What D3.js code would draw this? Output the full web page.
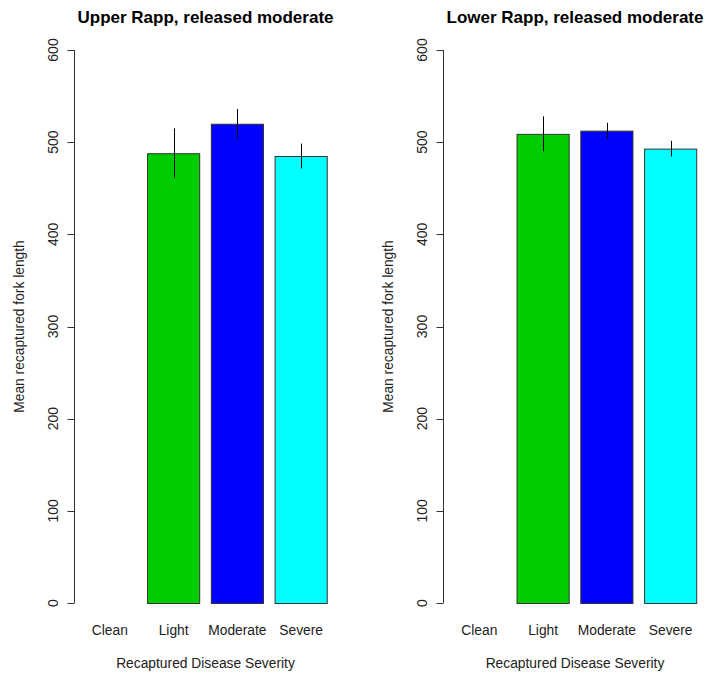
<!DOCTYPE html>
<html>
<head>
<meta charset="utf-8">
<script src="https://cdn.jsdelivr.net/npm/d3@7"></script>
<style>
  html, body { margin: 0; padding: 0; background: #fff; }
  svg text { font-family: "Liberation Sans", Arial, sans-serif; fill: #000; }
</style>
</head>
<body>
<svg id="chart" width="707" height="677"></svg>
<script>
const categories = ["Clean", "Light", "Moderate", "Severe"];
const colors = ["#ffffff", "#00CD00", "#0000FF", "#00FFFF"];
const yTicks = [0, 100, 200, 300, 400, 500, 600];

const upperTitle = "Upper Rapp, released moderate";
const upperMeans = [null, 488, 520, 485];
const upperErr = [null, 27, 16, 13.5];

const lowerTitle = "Lower Rapp, released moderate";
const lowerMeans = [null, 509, 512.5, 493];
const lowerErr = [null, 19, 8.5, 8.5];

const xLabel = "Recaptured Disease Severity";
const yLabel = "Mean recaptured fork length";

const svg = d3.select("#chart");

function panel(left, right, title, means, errs) {
  const g = svg.append("g");
  // R barplot coordinates: bars at 0.2..4.8, xlim extended by 4%
  const xu = d3.scaleLinear().domain([0.016, 4.984]).range([left, right]);
  const x = d3.scaleBand().domain(categories)
    .range([xu(0.2), xu(4.8)]).paddingInner(0.2 / 1.2).paddingOuter(0);
  const y = d3.scaleLinear().domain([0, 600]).range([603, 50]);

  const data = categories.map((c, i) => ({ c, v: means[i], e: errs[i], col: colors[i] }))
    .filter(d => d.v != null);

  g.selectAll("rect.bar").data(data).enter().append("rect")
    .attr("class", "bar")
    .attr("x", d => x(d.c) + 0.5)
    .attr("width", x.bandwidth() - 1)
    .attr("y", d => y(d.v) + 0.5)
    .attr("height", d => y(0) - y(d.v))
    .attr("fill", d => d.col)
    .attr("stroke", "#333")
    .attr("stroke-width", 1);

  g.selectAll("line.err").data(data).enter().append("line")
    .attr("class", "err")
    .attr("x1", d => Math.round(x(d.c) + x.bandwidth() / 2) + 0.5)
    .attr("x2", d => Math.round(x(d.c) + x.bandwidth() / 2) + 0.5)
    .attr("y1", d => y(d.v + d.e))
    .attr("y2", d => y(d.v - d.e))
    .attr("stroke", "#000")
    .attr("stroke-width", 1);

  // y axis
  const ax = g.append("g").attr("transform", `translate(${Math.round(left) + 0.5},0)`);
  ax.append("line").attr("y1", y(0)).attr("y2", y(600)).attr("stroke", "#333");
  ax.selectAll("line.tk").data(yTicks).enter().append("line")
    .attr("class", "tk")
    .attr("x1", 0).attr("x2", -7)
    .attr("y1", d => Math.round(y(d)) + 0.5).attr("y2", d => Math.round(y(d)) + 0.5)
    .attr("stroke", "#333");
  ax.selectAll("text.tl").data(yTicks).enter().append("text")
    .attr("class", "tl")
    .attr("transform", d => `translate(-17,${y(d)}) rotate(-90)`)
    .attr("text-anchor", "middle")
    .attr("font-size", 14)
    .style("fill", "#222")
    .text(d => d);

  // category labels
  g.selectAll("text.cat").data(categories).enter().append("text")
    .attr("class", "cat")
    .attr("x", d => x(d) + x.bandwidth() / 2)
    .attr("y", 635)
    .attr("text-anchor", "middle")
    .attr("font-size", 13.8)
    .style("fill", "#222")
    .text(d => d);

  const cx = (left + right) / 2;
  g.append("text")
    .attr("x", cx).attr("y", 668)
    .attr("text-anchor", "middle")
    .attr("font-size", 13.8)
    .style("fill", "#222")
    .text(xLabel);

  g.append("text")
    .attr("transform", `translate(${left - 50},${(y(0) + y(600)) / 2}) rotate(-90)`)
    .attr("text-anchor", "middle")
    .attr("font-size", 13.8)
    .style("fill", "#222")
    .text(yLabel);

  g.append("text")
    .attr("x", cx).attr("y", 23)
    .attr("text-anchor", "middle")
    .attr("font-size", 17)
    .attr("font-weight", "bold")
    .text(title);
}

panel(73.5, 337.5, upperTitle, upperMeans, upperErr);
panel(443, 707, lowerTitle, lowerMeans, lowerErr);
</script>
</body>
</html>
